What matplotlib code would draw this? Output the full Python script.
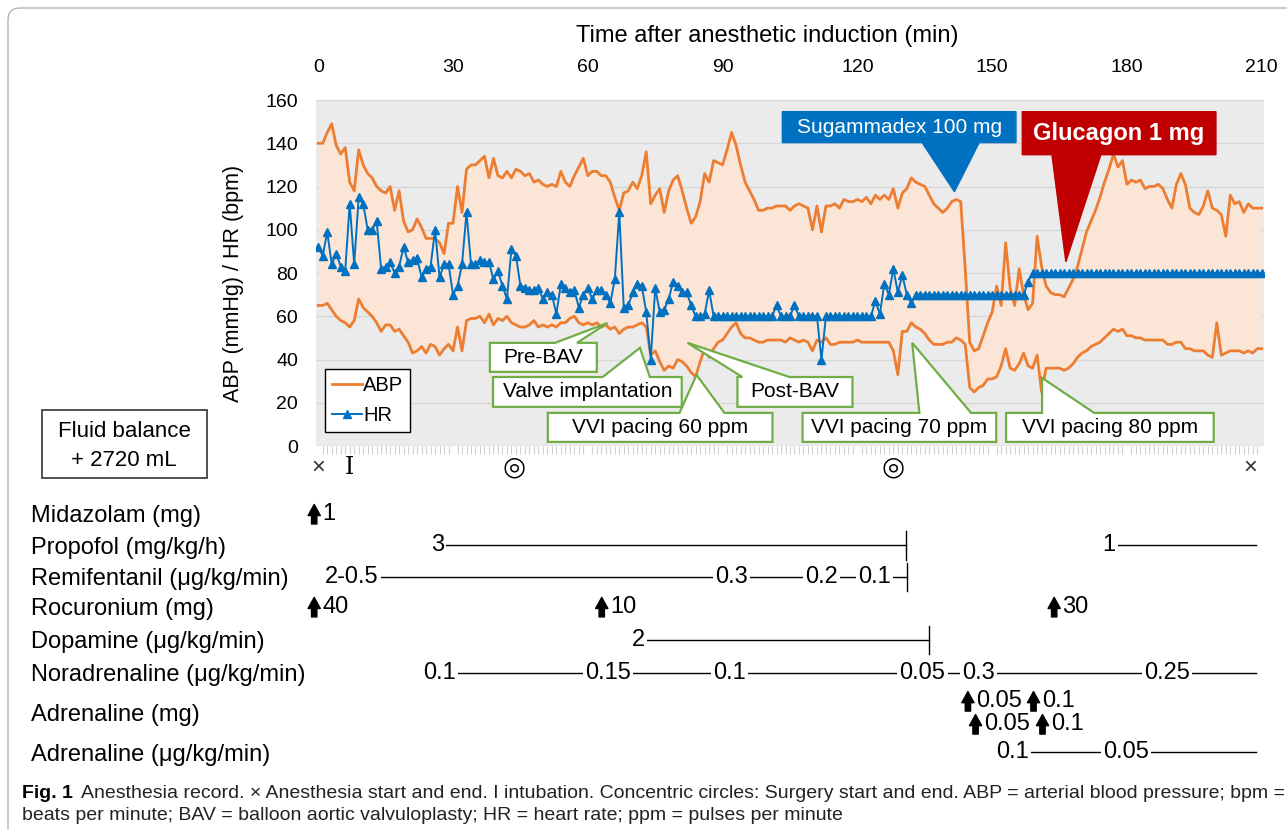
import numpy as np
import matplotlib.pyplot as plt
from matplotlib.patches import Polygon, Rectangle, FancyBboxPatch
from matplotlib.lines import Line2D
from matplotlib.transforms import blended_transform_factory, IdentityTransform

plt.rcParams['font.family'] = ['Liberation Sans', 'DejaVu Sans']

# ---- vital signs, one reading per minute (0-210 min) ----
minutes = np.arange(0, 211)

abp_upper = [140, 140, 145, 149, 139, 135, 138, 122, 118, 137,
             130, 126, 124, 120, 118, 117, 120, 109, 118, 104,
             99, 100, 105, 101, 96, 96, 96, 94, 89, 103,
             103, 120, 108, 128, 130, 130, 132, 134, 124, 133,
             125, 124, 127, 124, 128, 127, 125, 126, 122, 123,
             121, 120, 121, 120, 127, 122, 120, 125, 129, 133,
             125, 127, 127, 125, 125, 122, 115, 109, 117, 118,
             122, 119, 125, 136, 112, 116, 119, 108, 118, 123,
             125, 118, 110, 103, 106, 113, 126, 122, 132, 131,
             130, 137, 145, 139, 130, 122, 118, 114, 109, 109,
             110, 110, 111, 111, 111, 109, 111, 112, 111, 110,
             100, 111, 99, 111, 111, 112, 110, 114, 113, 113,
             114, 113, 115, 112, 116, 114, 116, 114, 119, 110,
             117, 119, 124, 122, 121, 120, 116, 112, 110, 108,
             110, 113, 114, 113, 82, 48, 44, 45, 51, 57,
             62, 74, 65, 94, 73, 65, 82, 70, 63, 66,
             97, 83, 74, 71, 70, 70, 69, 73, 77, 83,
             91, 99, 104, 109, 115, 122, 128, 135, 129, 132,
             121, 123, 122, 123, 119, 120, 120, 121, 119, 114,
             110, 121, 126, 121, 110, 108, 107, 111, 118, 110,
             109, 107, 97, 116, 112, 113, 108, 112, 110, 110,
             110]

abp_lower = [65, 65, 66, 63, 60, 58, 57, 55, 58, 68,
             64, 62, 60, 57, 53, 56, 56, 53, 54, 51,
             48, 43, 44, 46, 43, 47, 46, 42, 45, 47,
             44, 55, 44, 58, 59, 59, 60, 57, 61, 56,
             59, 58, 60, 57, 56, 55, 55, 56, 58, 55,
             56, 55, 56, 55, 57, 57, 59, 60, 57, 56,
             57, 56, 57, 55, 56, 54, 55, 52, 54, 55,
             55, 56, 57, 55, 42, 44, 39, 35, 37, 36,
             40, 39, 37, 34, 32, 39, 45, 41, 45, 48,
             49, 52, 55, 57, 52, 50, 50, 49, 48, 48,
             49, 49, 49, 49, 48, 50, 49, 48, 49, 48,
             44, 49, 48, 50, 47, 47, 48, 48, 48, 48,
             49, 48, 48, 48, 48, 48, 48, 48, 44, 33,
             53, 53, 57, 55, 54, 52, 49, 47, 47, 47,
             48, 48, 50, 49, 47, 27, 25, 27, 28, 31,
             31, 32, 37, 45, 36, 35, 38, 43, 37, 36,
             42, 25, 36, 36, 36, 36, 35, 36, 38, 41,
             43, 44, 46, 47, 48, 50, 52, 54, 53, 54,
             51, 51, 50, 50, 49, 49, 49, 49, 49, 47,
             47, 48, 48, 45, 45, 44, 44, 44, 42, 41,
             57, 42, 43, 44, 44, 44, 43, 44, 43, 45,
             45]

hr = [92, 88, 99, 84, 89, 83, 81, 112, 84, 115,
      112, 100, 100, 104, 82, 83, 85, 80, 83, 92,
      85, 86, 87, 78, 82, 83, 100, 78, 84, 84,
      70, 74, 84, 108, 84, 84, 86, 85, 85, 77,
      81, 74, 68, 91, 88, 74, 73, 72, 72, 73,
      68, 71, 70, 61, 75, 73, 71, 72, 64, 70,
      73, 68, 72, 72, 70, 66, 77, 108, 64, 65,
      71, 75, 74, 62, 40, 73, 62, 63, 68, 76,
      74, 71, 71, 65, 60, 60, 61, 72, 60, 60,
      60, 60, 60, 60, 60, 60, 60, 60, 60, 60,
      60, 60, 65, 60, 60, 60, 65, 60, 60, 60,
      60, 60, 40, 60, 60, 60, 60, 60, 60, 60,
      60, 60, 60, 60, 67, 61, 75, 70, 82, 71,
      79, 70, 66, 70, 70, 70, 70, 70, 70, 70,
      70, 70, 70, 70, 70, 70, 70, 70, 70, 70,
      70, 70, 70, 70, 70, 70, 70, 70, 76, 80,
      80, 80, 80, 80, 80, 80, 80, 80, 80, 80,
      80, 80, 80, 80, 80, 80, 80, 80, 80, 80,
      80, 80, 80, 80, 80, 80, 80, 80, 80, 80,
      80, 80, 80, 80, 80, 80, 80, 80, 80, 80,
      80, 80, 80, 80, 80, 80, 80, 80, 80, 80,
      80]

time_ticks = [0, 30, 60, 90, 120, 150, 180, 210]
value_ticks = [0, 20, 40, 60, 80, 100, 120, 140, 160]

# events under the time axis: anesthesia start/end, intubation, surgery start/end
event_times = [0, 7, 43.5, 128, 207.5]
event_marks = ['\u00d7', 'I', '\u25ce', '\u25ce', '\u00d7']

# callouts: text, box (t0, t1, v0, v1), wedge base (b0, b1), tip (t, v), side
callouts = [
    ('Pre-BAV', (38.2, 62.0, 34.3, 47.7), (52.7, 57.6), (64.4, 56.9), 'top'),
    ('Valve implantation', (38.9, 80.9, 18.1, 31.9), (63.3, 73.8), (71.6, 45.4), 'top'),
    ('Post-BAV', (93.3, 118.9, 18.1, 31.9), (94.4, 104.9), (82.2, 47.7), 'top'),
    ('VVI pacing 60 ppm', (51.1, 101.1, 1.9, 15.3), (80.4, 90.4), (84.2, 32.9), 'top'),
    ('VVI pacing 70 ppm', (107.8, 150.9, 1.9, 15.3), (133.8, 145.3), (132.2, 47.7), 'top'),
    ('VVI pacing 80 ppm', (153.1, 199.3, 1.9, 15.3), (161.1, 172.7), (161.1, 31.5), 'top'),
]
drug_callouts = [
    ('Sugammadex 100 mg', (103.3, 155.3, 140.3, 154.6), (134.4, 147.1), (141.6, 117.6), '#0070c0', 'normal'),
    ('Glucagon 1 mg', (156.7, 199.8, 134.7, 154.6), (163.3, 174.2), (166.4, 85.2), '#c00000', 'bold'),
]

# ---- drug chart ----
drug_names = ['Midazolam (mg)', 'Propofol (mg/kg/h)', 'Remifentanil (\u03bcg/kg/min)',
              'Rocuronium (mg)', 'Dopamine (\u03bcg/kg/min)', 'Noradrenaline (\u03bcg/kg/min)',
              'Adrenaline (mg)', 'Adrenaline (\u03bcg/kg/min)']
drug_rows = [0, 1, 2, 2.95, 4, 5.05, 6.29, 7.56]
# infusions: row, [(time of change, rate label)], end time, stop bar
infusions = [
    (1, [(26.5, '3')], 130.9, True),
    (1, [(176, '1')], 208.7, False),
    (2, [(7.5, '2-0.5'), (92, '0.3'), (112, '0.2'), (123.9, '0.1')], 131, True),
    (4, [(71.3, '2')], 136, True),
    (5.05, [(27, '0.1'), (64.5, '0.15'), (91.5, '0.1'), (134.5, '0.05'), (147, '0.3'), (189, '0.25')], 208.7, False),
    (7.56, [(154.6, '0.1'), (179.7, '0.05')], 208.7, False),
]
# boluses: row, time, dose
boluses = [(0, -0.9, '1'), (2.95, -0.9, '40'), (2.95, 63.1, '10'), (2.95, 163.8, '30'),
           (5.94, 144.6, '0.05'), (5.94, 159.2, '0.1'), (6.67, 146.3, '0.05'), (6.67, 161.2, '0.1')]

W, H = 1287, 830
fig = plt.figure(figsize=(W / 100, H / 100), dpi=100)

def fx(x):
    return x / W

def fy(y):
    return 1 - y / H

# page frame round the figure
fig.patches.append(FancyBboxPatch((8, -40), 1400, H - 8 + 40, boxstyle='round,pad=0,rounding_size=12',
                                  transform=IdentityTransform(), facecolor='none',
                                  edgecolor='#b5b5b5', lw=1))

ax = fig.add_axes([fx(316), fy(446), fx(948), 346 / H])
ax.set_facecolor('#ebebeb')
for s in ax.spines.values():
    s.set_visible(False)
ax.set_xlim(-0.5, 210.5)
ax.set_ylim(0, 160)
ax.set_yticks(value_ticks)
ax.yaxis.grid(True, color='#d6d6d6', lw=1)
ax.set_axisbelow(True)
ax.tick_params(axis='y', length=0, pad=13, labelsize=14)
ax.set_xticks(time_ticks)
ax.set_xticks(minutes, minor=True)
ax.tick_params(axis='x', which='major', top=True, labeltop=True, bottom=False,
               labelbottom=False, length=0, pad=17, labelsize=14)
ax.tick_params(axis='x', which='minor', bottom=True, top=False, length=6,
               color='#d0d0d0', width=0.8)

ax.fill_between(minutes, abp_lower, abp_upper, color='#fbe5d6', lw=0, zorder=1)
ax.plot(minutes, abp_upper, color='#ed7d31', lw=2, zorder=2)
ax.plot(minutes, abp_lower, color='#ed7d31', lw=2, zorder=2)
ax.plot(minutes, hr, color='#0070c0', lw=1.4, marker='^', ms=5.8, zorder=3)

fig.text(fx(767), fy(36), 'Time after anesthetic induction (min)', ha='center', va='center', fontsize=17)
fig.text(fx(234), fy(283), 'ABP (mmHg) / HR (bpm)', ha='center', va='center', rotation=90, fontsize=15.5)

handles = [Line2D([], [], color='#ed7d31', lw=2),
           Line2D([], [], color='#0070c0', lw=1.4, marker='^', ms=5.8)]
leg = ax.legend(handles, ['ABP', 'HR'], loc='lower left', bbox_to_anchor=(0.0095, 0.04),
                frameon=True, fancybox=False, framealpha=1, edgecolor='black', fontsize=14.5,
                handlelength=1.5, handletextpad=0.05, borderpad=0.35, labelspacing=0.55,
                borderaxespad=0)
leg.get_frame().set_linewidth(1)
leg.set_zorder(4)


def callout_poly(box, base, tip, side):
    t0, t1, v0, v1 = box
    b0, b1 = base
    if side == 'top':
        return [(t0, v0), (t1, v0), (t1, v1), (b1, v1), tip, (b0, v1), (t0, v1)]
    return [(t0, v1), (t1, v1), (t1, v0), (b1, v0), tip, (b0, v0), (t0, v0)]


for text, box, base, tip, side in callouts:
    ax.add_patch(Polygon(callout_poly(box, base, tip, side), closed=True, facecolor='white',
                         edgecolor='#70ad47', lw=1.6, zorder=5, clip_on=False))
    ax.text((box[0] + box[1]) / 2, (box[2] + box[3]) / 2, text, ha='center', va='center',
            fontsize=15, zorder=6)

for text, box, base, tip, color, weight in drug_callouts:
    ax.add_patch(Polygon(callout_poly(box, base, tip, 'bottom'), closed=True, facecolor=color,
                         edgecolor=color, lw=1, zorder=5, clip_on=False))
    ax.text((box[0] + box[1]) / 2, (box[2] + box[3]) / 2, text, ha='center', va='center',
            fontsize=17 if weight == 'bold' else 15, fontweight=weight, color='white', zorder=6)

ev = blended_transform_factory(ax.transData, ax.transAxes)
for t, m in zip(event_times, event_marks):
    if m == 'I':
        ax.text(t, -0.062, m, transform=ev, ha='center', va='center', fontsize=17,
                family='DejaVu Serif')
    elif m == '\u25ce':
        ax.text(t, -0.062, m, transform=ev, ha='center', va='center', fontsize=19,
                family='DejaVu Sans')
    else:
        ax.text(t, -0.062, m, transform=ev, ha='center', va='center', fontsize=17,
                color='#333333')

# fluid balance box
fig.patches.append(Rectangle((fx(42), fy(478)), fx(165), 68 / H, transform=fig.transFigure,
                             facecolor='white', edgecolor='#333333', lw=1.2))
fig.text(fx(124), fy(431), 'Fluid balance', ha='center', va='center', fontsize=16)
fig.text(fx(124), fy(460), '+ 2720 mL', ha='center', va='center', fontsize=16)

# ---- drug chart axes ----
dx = fig.add_axes([fx(316), fy(770), fx(948), 275 / H])
dx.set_xlim(-0.5, 210.5)
dx.set_ylim(8.13, -0.6)
dx.axis('off')
lab = blended_transform_factory(fig.transFigure, dx.transData)
for name, r in zip(drug_names, drug_rows):
    dx.text(fx(31), r + 0.08, name, transform=lab, ha='left', va='center', fontsize=17)

for r, steps, t_end, bar in infusions:
    dx.plot([steps[0][0], t_end], [r, r], color='black', lw=1, zorder=1, clip_on=False)
    if bar:
        dx.plot([t_end, t_end], [r - 0.45, r + 0.45], color='black', lw=1, zorder=1)
    for t, label in steps:
        dx.text(t, r, label, ha='center', va='center', fontsize=17, zorder=2,
                bbox=dict(facecolor='white', edgecolor='none', pad=1.5))

for r, t, dose in boluses:
    dx.annotate('', xy=(t, r - 0.3), xytext=(t, r + 0.32), annotation_clip=False,
                arrowprops=dict(arrowstyle='simple,head_length=0.5,head_width=0.55,tail_width=0.24',
                                color='black', mutation_scale=16, shrinkA=0, shrinkB=0))
    dx.annotate(dose, xy=(t, r), xytext=(6, 0), textcoords='offset points', ha='left',
                va='center', fontsize=17, annotation_clip=False)

# caption
t1 = fig.text(fx(22), fy(793), 'Fig. 1', ha='left', va='center', fontsize=14,
              fontweight='bold')
ax.annotate('Anesthesia record. \u00d7 Anesthesia start and end. I intubation. Concentric circles: '
            'Surgery start and end. ABP = arterial blood pressure; bpm =',
            xy=(1, 0.5), xycoords=t1, xytext=(6, 0), textcoords='offset points',
            ha='left', va='center', fontsize=14, color='#222222', annotation_clip=False)
fig.text(fx(22), fy(815), 'beats per minute; BAV = balloon aortic valvuloplasty; HR = heart rate; '
         'ppm = pulses per minute', ha='left', va='center', fontsize=14, color='#222222')

fig.savefig('out.png', dpi=100)
